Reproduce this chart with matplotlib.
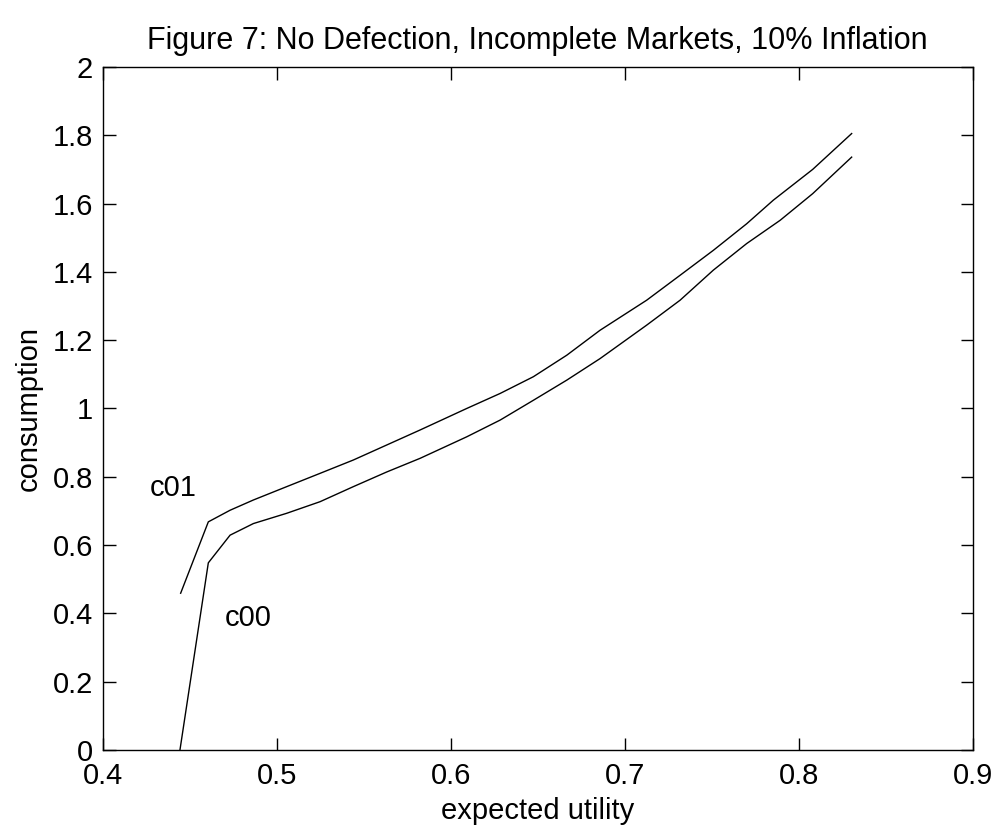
import matplotlib
matplotlib.use("Agg")
import matplotlib.pyplot as plt

plt.rcParams['font.family'] = ['Liberation Sans', 'DejaVu Sans']

title = "Figure 7: No Defection, Incomplete Markets, 10% Inflation"
xlabel = "expected utility"
ylabel = "consumption"

c01_x = [0.4448, 0.4607, 0.4732, 0.4866, 0.5057, 0.5249, 0.5440, 0.5632, 0.5824,
         0.6092, 0.6284, 0.6475, 0.6667, 0.6858, 0.7126, 0.7318, 0.7509, 0.7701,
         0.7854, 0.8080, 0.8304]
c01_y = [0.459, 0.668, 0.702, 0.732, 0.771, 0.810, 0.849, 0.893, 0.937,
         1.000, 1.044, 1.093, 1.156, 1.229, 1.317, 1.390, 1.463, 1.541,
         1.610, 1.700, 1.805]

c00_x = [0.4444, 0.4607, 0.4732, 0.4866, 0.5057, 0.5249, 0.5440, 0.5632, 0.5824,
         0.6092, 0.6284, 0.6475, 0.6667, 0.6858, 0.7126, 0.7318, 0.7509, 0.7701,
         0.7893, 0.8080, 0.8304]
c00_y = [0.000, 0.548, 0.629, 0.663, 0.693, 0.727, 0.771, 0.814, 0.854,
         0.917, 0.966, 1.024, 1.083, 1.146, 1.244, 1.317, 1.405, 1.483,
         1.551, 1.629, 1.736]

xticks = [0.4, 0.5, 0.6, 0.7, 0.8, 0.9]
xtick_labels = ["0.4", "0.5", "0.6", "0.7", "0.8", "0.9"]
yticks = [0, 0.2, 0.4, 0.6, 0.8, 1.0, 1.2, 1.4, 1.6, 1.8, 2.0]
ytick_labels = ["0", "0.2", "0.4", "0.6", "0.8", "1", "1.2", "1.4", "1.6", "1.8", "2"]

fig = plt.figure(figsize=(9.97, 8.36), dpi=100)
ax = fig.add_axes([0.103, 0.1029, 0.8727, 0.817])
ax.plot(c01_x, c01_y, color='black', lw=1.0)
ax.plot(c00_x, c00_y, color='black', lw=1.0)
ax.text(0.4404, 0.767, "c01", fontsize=21, ha='center', va='center')
ax.text(0.4835, 0.386, "c00", fontsize=21, ha='center', va='center')

ax.set_xlim(0.4, 0.9)
ax.set_ylim(0, 2)
ax.set_xticks(xticks)
ax.set_xticklabels(xtick_labels)
ax.set_yticks(yticks)
ax.set_yticklabels(ytick_labels)
ax.tick_params(direction='in', length=9, width=1, top=True, right=True,
               labelsize=21)
ax.tick_params(axis='x', pad=9)
ax.tick_params(axis='y', pad=7)
for s in ax.spines.values():
    s.set_linewidth(1.0)
ax.set_title(title, fontsize=22, pad=13)
ax.set_xlabel(xlabel, fontsize=21, labelpad=5)
ax.set_ylabel(ylabel, fontsize=21, labelpad=7)

fig.savefig("out.png", dpi=100)
